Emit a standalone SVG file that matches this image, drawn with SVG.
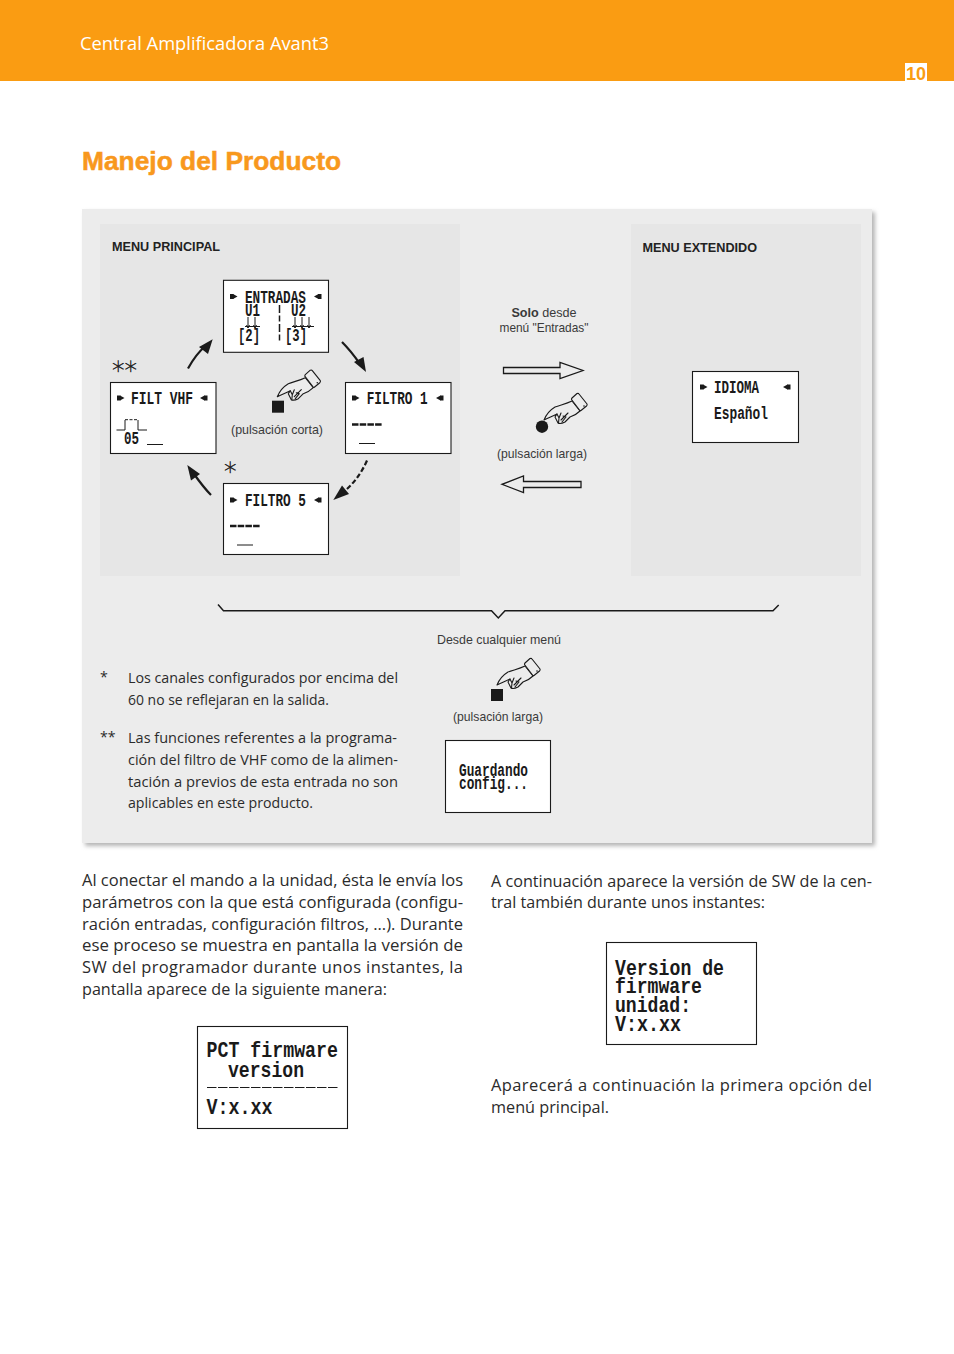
<svg xmlns="http://www.w3.org/2000/svg" xmlns:xlink="http://www.w3.org/1999/xlink" width="954" height="1354" viewBox="0 0 954 1354">
<style>
.body{font-family:"Open Sans","Noto Sans",sans-serif;font-size:16.5px;fill:#2b2b2b}
.note{font-family:"Open Sans","Noto Sans",sans-serif;font-size:14.2px;fill:#2b2b2b}
.lab{font-family:"Liberation Sans",Arial,sans-serif;font-size:12.6px;fill:#3a3a3a}
.head{font-family:"Liberation Sans",Arial,sans-serif;font-size:13px;font-weight:700;fill:#222}
.lcd{font-family:"Liberation Mono","DejaVu Sans Mono",monospace;font-weight:700;font-size:18px;fill:#1a1a1a}
.big{font-size:22px}
.ast{font-family:"DejaVu Sans",sans-serif;font-size:25px;font-weight:200;fill:#1a1a1a;stroke:#1a1a1a;stroke-width:.4}
.box{fill:#fff;stroke:#1a1a1a;stroke-width:1.1}
.arr{fill:none;stroke:#1a1a1a;stroke-width:2.2}
.hd{fill:#1a1a1a}
.out{fill:#ececec;stroke:#1a1a1a;stroke-width:1.3}
.hand{fill:#ececec;stroke:#1a1a1a;stroke-width:1.1;stroke-linejoin:round;stroke-linecap:round}
.bar{stroke:#1a1a1a;stroke-width:2.4;stroke-dasharray:6.5 1.2;fill:none}
.ul{stroke:#1a1a1a;stroke-width:1;fill:none}
</style>
<defs>
<filter id="sh" x="-2%" y="-2%" width="104%" height="104%"><feGaussianBlur stdDeviation="2"/></filter>
<g id="hand">
<path class="hand" d="M0 0C2-5 6-10 11-13C16-15 22-16 28-19L36-9C33-6 29-4 26-3L21 2C19 3 16 4 14 3L11-3L13-6C9-4 4-2 0 0Z"/>
<path class="hand" d="M28-22L33-26.500Q34.500-27 35-26L43-16Q43.500-15 42.500-14L37-9.500Q36-9 35.500-10L27.500-20.500Q27.500-21.500 28-22Z"/>
<path class="hand" d="M13-6L15-2L17-7M15-2L14.500 3M18 2L22-3L19-4M17 0L24-7"/>
<circle cx="40" cy="-14" r=".8" fill="#1a1a1a"/>
</g>
<g id="ml"><rect x="0" y="-2.500" width="3.500" height="5" fill="#1a1a1a"/><path d="M3-2.500L7.500 0L3 2.500Z" fill="#1a1a1a"/></g>
<g id="mr"><rect x="4" y="-2.500" width="3.500" height="5" fill="#1a1a1a"/><path d="M4.500-2.500L0 0L4.500 2.500Z" fill="#1a1a1a"/></g>
</defs>

<rect id="header" x="0" y="0" width="954" height="81" fill="#fa9c12"/>
<rect x="905" y="63" width="22" height="18" fill="#fff"/>
<text x="916" y="80" text-anchor="middle" font-family="Liberation Sans,Arial,sans-serif" font-weight="700" font-size="18" fill="#fa9c12">10</text>
<text x="80" y="50" font-family="Open Sans,Noto Sans,sans-serif" font-size="19" fill="#fff" textLength="249" lengthAdjust="spacingAndGlyphs">Central Amplificadora Avant3</text>
<text x="82" y="170" font-family="Liberation Sans,Arial,sans-serif" font-weight="700" font-size="25" fill="#f8981d" stroke="#f8981d" stroke-width=".5" textLength="259" lengthAdjust="spacingAndGlyphs">Manejo del Producto</text>

<rect x="85" y="212" width="790" height="634" fill="#b5b5b5" filter="url(#sh)"/>
<rect x="82" y="209" width="790" height="634" fill="#ececec"/>
<rect x="100" y="224" width="360" height="352" fill="#e6e6e6"/>
<rect x="631" y="224" width="230" height="352" fill="#e6e6e6"/>

<text class="head" x="112" y="251" textLength="108" lengthAdjust="spacingAndGlyphs">MENU PRINCIPAL</text>
<text class="head" x="642.500" y="252" textLength="114.500" lengthAdjust="spacingAndGlyphs">MENU EXTENDIDO</text>
<text class="ast" x="110.500" y="373.500">∗</text>
<text class="ast" x="123" y="373.500">∗</text>
<text class="ast" x="222.500" y="474.500">∗</text>

<text class="lab" x="231" y="434" textLength="92" lengthAdjust="spacingAndGlyphs">(pulsación corta)</text>
<rect x="272" y="400.700" width="12" height="12" fill="#1a1a1a"/>
<use xlink:href="#hand" href="#hand" x="277.300" y="396.700"/>

<text class="lab" x="544" y="317" text-anchor="middle"><tspan font-weight="700">Solo</tspan> desde</text>
<text class="lab" x="544" y="332" text-anchor="middle" textLength="89" lengthAdjust="spacingAndGlyphs">menú "Entradas"</text>
<use xlink:href="#hand" href="#hand" x="544" y="420"/>
<circle cx="542" cy="426.700" r="6.200" fill="#1a1a1a"/>
<text class="lab" x="497" y="458" textLength="90" lengthAdjust="spacingAndGlyphs">(pulsación larga)</text>

<text class="lab" x="437" y="644" textLength="124" lengthAdjust="spacingAndGlyphs">Desde cualquier menú</text>
<use xlink:href="#hand" href="#hand" x="497" y="685"/>
<rect x="491" y="689" width="12" height="12" fill="#1a1a1a"/>
<text class="lab" x="453" y="721" textLength="90" lengthAdjust="spacingAndGlyphs">(pulsación larga)</text>

<g id="connectors">
<path class="arr" d="M188 368.500Q196 354 205 346.500"/><path class="hd" d="M212.700 339.300L199 347L208 354Z"/>
<path class="arr" d="M342 342Q351 351 360 364"/><path class="hd" d="M366 372L354 362L363.500 357Z"/>
<path class="arr" stroke-dasharray="5 2.500" d="M367 460.500Q358 481 341 494"/><path class="hd" d="M333.300 500L342 485.500L349 494Z"/>
<path class="arr" d="M211 495Q204 488 194 474"/><path class="hd" d="M187.300 465L200 474L191 480.500Z"/>
<path class="out" d="M503.500 367.500H560V362.500L583 370.500L560 378.500V373.500H503.500Z"/>
<path class="out" d="M581 481.500H523.500V476L502 484.300L523.500 492.500V487.500H581Z"/>
<path fill="none" stroke="#1a1a1a" stroke-width="1.500" d="M218 604.500L223.500 610.700H491.500L498.300 618L505 610.700H773L778.700 605"/>
</g>

<g id="lcd-entradas">
<rect class="box" x="223.500" y="280.300" width="105" height="72"/>
<use xlink:href="#ml" href="#ml" x="230" y="296.500"/><use xlink:href="#mr" href="#mr" x="314" y="296.500"/>
<text class="lcd" x="245" y="303" textLength="61" lengthAdjust="spacingAndGlyphs">ENTRADAS</text>
<text class="lcd" x="245" y="316" textLength="15" lengthAdjust="spacingAndGlyphs">U1</text>
<text class="lcd" x="291" y="316" textLength="15" lengthAdjust="spacingAndGlyphs">U2</text>
<text class="lcd" x="238" y="341" textLength="22" lengthAdjust="spacingAndGlyphs">[2]</text>
<text class="lcd" x="285" y="341" textLength="22" lengthAdjust="spacingAndGlyphs">[3]</text>
<path stroke="#1a1a1a" stroke-width="1.500" stroke-dasharray="8 2.500 6 2.500" d="M279.500 305V342"/>
<path class="ul" d="M245 326.500H260M248 317V328M255 317V328M246.500 325L248 328L249.500 325M253.500 325L255 328L256.500 325"/>
<path class="ul" d="M292 326.500H314M295 317V328M302 317V328M309 317V328M293.500 325L295 328L296.500 325M300.500 325L302 328L303.500 325M307.500 325L309 328L310.500 325"/>
</g>
<g id="lcd-filtvhf">
<rect class="box" x="110.500" y="382.500" width="105.500" height="71"/>
<use xlink:href="#ml" href="#ml" x="117" y="398"/><use xlink:href="#mr" href="#mr" x="200" y="398"/>
<text class="lcd" x="131" y="404" textLength="62" lengthAdjust="spacingAndGlyphs">FILT VHF</text>
<path class="ul" d="M116.500 430H125V420M138 420V430H147"/><path class="ul" stroke-dasharray="3 1.500" d="M125 419.700H138"/>
<text class="lcd" x="124" y="443.500" textLength="15" lengthAdjust="spacingAndGlyphs">05</text>
<path class="ul" stroke-width="1.200" d="M147 444.500H163"/>
</g>
<g id="lcd-filtro1">
<rect class="box" x="345.500" y="382.500" width="105.500" height="71"/>
<use xlink:href="#ml" href="#ml" x="352" y="398"/><use xlink:href="#mr" href="#mr" x="436" y="398"/>
<text class="lcd" x="366.700" y="404" textLength="61" lengthAdjust="spacingAndGlyphs">FILTRO 1</text>
<path class="bar" d="M352 424.500H382"/><path class="ul" stroke-width="1.200" d="M359 443.500H375"/>
</g>
<g id="lcd-filtro5">
<rect class="box" x="223.500" y="483.500" width="105" height="71"/>
<use xlink:href="#ml" href="#ml" x="230" y="500"/><use xlink:href="#mr" href="#mr" x="314" y="500"/>
<text class="lcd" x="245" y="506" textLength="61" lengthAdjust="spacingAndGlyphs">FILTRO 5</text>
<path class="bar" d="M230 526H260"/><path class="ul" stroke-width="1.200" d="M237 545H253"/>
</g>
<g id="lcd-idioma">
<rect class="box" x="692.500" y="371.500" width="106" height="71"/>
<use xlink:href="#ml" href="#ml" x="700" y="387"/><use xlink:href="#mr" href="#mr" x="783" y="387"/>
<text class="lcd" x="714" y="393" textLength="45" lengthAdjust="spacingAndGlyphs">IDIOMA</text>
<text class="lcd" x="714" y="419" textLength="54" lengthAdjust="spacingAndGlyphs">Español</text>
</g>
<g id="lcd-guardando">
<rect class="box" x="445.500" y="740.500" width="105" height="72"/>
<text class="lcd" x="459" y="776" textLength="69" lengthAdjust="spacingAndGlyphs">Guardando</text>
<text class="lcd" x="459" y="789" textLength="69" lengthAdjust="spacingAndGlyphs">config...</text>
</g>
<g id="lcd-pct">
<rect class="box" x="197.500" y="1026.500" width="150" height="102"/>
<text class="lcd big" x="206.500" y="1057" textLength="131.500" lengthAdjust="spacingAndGlyphs">PCT firmware</text>
<text class="lcd big" x="228" y="1077" textLength="76" lengthAdjust="spacingAndGlyphs">version</text>
<path stroke="#1a1a1a" stroke-width="1.200" stroke-dasharray="9.500 1.500" d="M207 1087.500H339"/>
<text class="lcd big" x="206.500" y="1114" textLength="66" lengthAdjust="spacingAndGlyphs">V:x.xx</text>
</g>
<g id="lcd-version">
<rect class="box" x="606.500" y="942.500" width="150" height="102"/>
<text class="lcd big" x="615" y="975" textLength="109" lengthAdjust="spacingAndGlyphs">Version de</text>
<text class="lcd big" x="615" y="992.500" textLength="87" lengthAdjust="spacingAndGlyphs">firmware</text>
<text class="lcd big" x="615" y="1012" textLength="76" lengthAdjust="spacingAndGlyphs">unidad:</text>
<text class="lcd big" x="615" y="1031" textLength="66" lengthAdjust="spacingAndGlyphs">V:x.xx</text>
</g>

<text class="note" x="100" y="682">*</text>
<text class="note" x="128" y="683" textLength="270" lengthAdjust="spacingAndGlyphs">Los canales configurados por encima del</text>
<text class="note" x="128" y="705" textLength="201" lengthAdjust="spacingAndGlyphs">60 no se reflejaran en la salida.</text>
<text class="note" x="100" y="742">**</text>
<text class="note" x="128" y="743" textLength="269" lengthAdjust="spacingAndGlyphs">Las funciones referentes a la programa-</text>
<text class="note" x="128" y="765" textLength="270" lengthAdjust="spacingAndGlyphs">ción del filtro de VHF como de la alimen-</text>
<text class="note" x="128" y="787" textLength="270" lengthAdjust="spacingAndGlyphs">tación a previos de esta entrada no son</text>
<text class="note" x="128" y="808" textLength="185" lengthAdjust="spacingAndGlyphs">aplicables en este producto.</text>

<text class="body" x="82" y="886" textLength="381" lengthAdjust="spacingAndGlyphs">Al conectar el mando a la unidad, ésta le envía los</text>
<text class="body" x="82" y="908" textLength="381" lengthAdjust="spacingAndGlyphs">parámetros con la que está configurada (configu-</text>
<text class="body" x="82" y="930" textLength="381" lengthAdjust="spacingAndGlyphs">ración entradas, configuración filtros, ...). Durante</text>
<text class="body" x="82" y="951" textLength="381" lengthAdjust="spacingAndGlyphs">ese proceso se muestra en pantalla la versión de</text>
<text class="body" x="82" y="973" textLength="381" lengthAdjust="spacing">SW del programador durante unos instantes, la</text>
<text class="body" x="82" y="995" textLength="305" lengthAdjust="spacingAndGlyphs">pantalla aparece de la siguiente manera:</text>
<text class="body" x="491" y="887" textLength="381" lengthAdjust="spacingAndGlyphs">A continuación aparece la versión de SW de la cen-</text>
<text class="body" x="491" y="908" textLength="274" lengthAdjust="spacingAndGlyphs">tral también durante unos instantes:</text>
<text class="body" x="491" y="1091" textLength="381" lengthAdjust="spacing">Aparecerá a continuación la primera opción del</text>
<text class="body" x="491" y="1113" textLength="118" lengthAdjust="spacingAndGlyphs">menú principal.</text>
</svg>
